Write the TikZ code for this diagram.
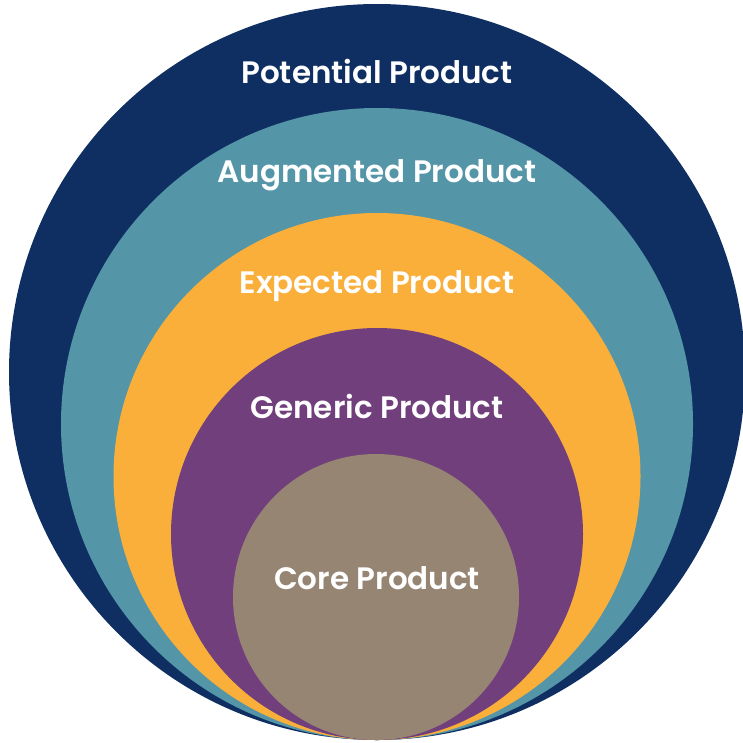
\documentclass[tikz,border=0pt]{standalone}
\usepackage{fontspec}
\setmainfont{Poppins}[BoldFont={Poppins SemiBold}]
\definecolor{navy}{HTML}{0F2F62}
\definecolor{teal}{HTML}{5495A8}
\definecolor{orange}{HTML}{F9AF3A}
\definecolor{purple}{HTML}{71407C}
\definecolor{core}{HTML}{978573}
\begin{document}
\begin{tikzpicture}[x=1pt,y=-1pt,
  ring/.style={circle,inner sep=0pt,minimum size=#1},
  lbl/.style={text=white,font=\fontsize{31}{35}\selectfont\bfseries}]
\useasboundingbox (0,0) rectangle (743,742);
\node[ring=736pt,fill=navy] (potential) at (377,372) {};
\node[ring=632pt,fill=teal] (augmented) at (377,424) {};
\node[ring=527pt,fill=orange] (expected) at (377,476.5) {};
\node[ring=412pt,fill=purple] (generic) at (377,534) {};
\node[ring=286pt,fill=core] (coreprod) at (376,597) {};
\node[lbl] (tpot) at (377,71) {Potential Product};
\node[lbl] (taug) at (377,175) {Augmented Product};
\node[lbl] (texp) at (377,286) {Expected Product};
\node[lbl] (tgen) at (377,406) {Generic Product};
\node[lbl] (tcore) at (377,578) {Core Product};
\end{tikzpicture}
\end{document}
